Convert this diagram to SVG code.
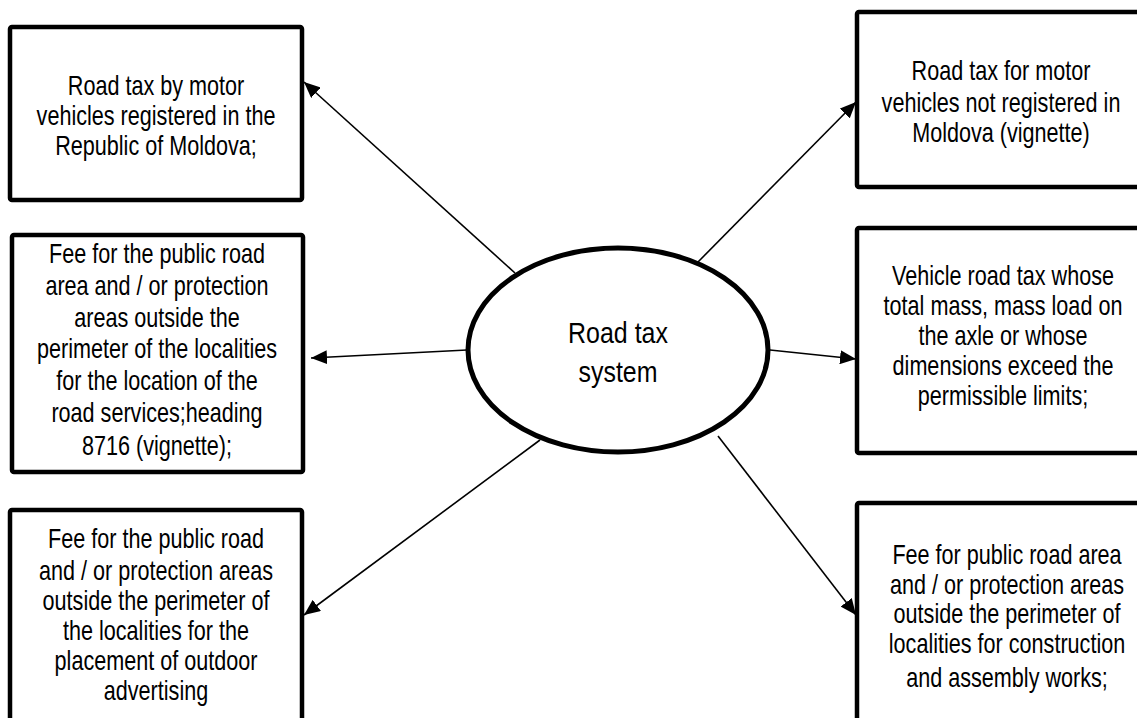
<svg xmlns="http://www.w3.org/2000/svg" width="1137" height="718" viewBox="0 0 1137 718">
<style>
.box{fill:#fff;stroke:#000;stroke-width:4.5}
.t{font-family:"Liberation Sans",Arial,sans-serif;font-size:27px;fill:#000;text-anchor:middle}
.ct{font-family:"Liberation Sans",Arial,sans-serif;font-size:29px;fill:#000;text-anchor:middle}
.c{stroke:#000;stroke-width:1.6;fill:none;marker-end:url(#ah)}
</style>
<defs>
<marker id="ah" markerUnits="userSpaceOnUse" markerWidth="18" markerHeight="14" refX="16" refY="7" orient="auto">
<path d="M0,0 L16,7 L0,14 Z" fill="#000"/>
</marker>
</defs>
<rect width="1137" height="718" fill="#fff"/>
<g id="connectors">
<line class="c" x1="515" y1="273" x2="304" y2="82"/>
<line class="c" x1="698" y1="262" x2="856" y2="102"/>
<line class="c" x1="467" y1="350" x2="311" y2="358"/>
<line class="c" x1="770" y1="350" x2="856" y2="359"/>
<line class="c" x1="540" y1="440" x2="304" y2="615"/>
<line class="c" x1="718" y1="436" x2="856" y2="615"/>
</g>
<g id="center">
<ellipse cx="618" cy="350" rx="150" ry="102" fill="#fff" stroke="#000" stroke-width="5"/>
<g transform="translate(618,0) scale(0.86,1)">
<text class="ct" x="0" y="343">Road tax</text>
<text class="ct" x="0" y="382">system</text>
</g>
</g>
<g id="box1">
<rect class="box" x="10" y="27" width="292" height="173" rx="2"/>
<g transform="translate(156,0) scale(0.8,1)">
<text class="t" x="0" y="95">Road tax by motor</text>
<text class="t" x="0" y="125">vehicles registered in the</text>
<text class="t" x="0" y="155">Republic of Moldova;</text>
</g>
</g>
<g id="box2">
<rect class="box" x="12" y="235" width="291" height="237" rx="2"/>
<g transform="translate(157,0) scale(0.8,1)">
<text class="t" x="0" y="263">Fee for the public road</text>
<text class="t" x="0" y="295">area and / or protection</text>
<text class="t" x="0" y="327">areas outside the</text>
<text class="t" x="0" y="358">perimeter of the localities</text>
<text class="t" x="0" y="390">for the location of the</text>
<text class="t" x="0" y="422">road services;heading</text>
<text class="t" x="0" y="455">8716 (vignette);</text>
</g>
</g>
<g id="box3">
<rect class="box" x="10" y="510" width="292" height="230" rx="2"/>
<g transform="translate(156,0) scale(0.8,1)">
<text class="t" x="0" y="548">Fee for the public road</text>
<text class="t" x="0" y="580">and / or protection areas</text>
<text class="t" x="0" y="610">outside the perimeter of</text>
<text class="t" x="0" y="640">the localities for the</text>
<text class="t" x="0" y="670">placement of outdoor</text>
<text class="t" x="0" y="700">advertising</text>
</g>
</g>
<g id="box4">
<rect class="box" x="857" y="12" width="290" height="175" rx="2"/>
<g transform="translate(1001,0) scale(0.8,1)">
<text class="t" x="0" y="80">Road tax for motor</text>
<text class="t" x="0" y="112">vehicles not registered in</text>
<text class="t" x="0" y="142">Moldova (vignette)</text>
</g>
</g>
<g id="box5">
<rect class="box" x="857" y="228" width="290" height="225" rx="2"/>
<g transform="translate(1003,0) scale(0.8,1)">
<text class="t" x="0" y="285">Vehicle road tax whose</text>
<text class="t" x="0" y="315">total mass, mass load on</text>
<text class="t" x="0" y="345">the axle or whose</text>
<text class="t" x="0" y="375">dimensions exceed the</text>
<text class="t" x="0" y="405">permissible limits;</text>
</g>
</g>
<g id="box6">
<rect class="box" x="857" y="503" width="290" height="240" rx="2"/>
<g transform="translate(1007,0) scale(0.8,1)">
<text class="t" x="0" y="564">Fee for public road area</text>
<text class="t" x="0" y="594">and / or protection areas</text>
<text class="t" x="0" y="623">outside the perimeter of</text>
<text class="t" x="0" y="653">localities for construction</text>
<text class="t" x="0" y="687">and assembly works;</text>
</g>
</g>
</svg>
